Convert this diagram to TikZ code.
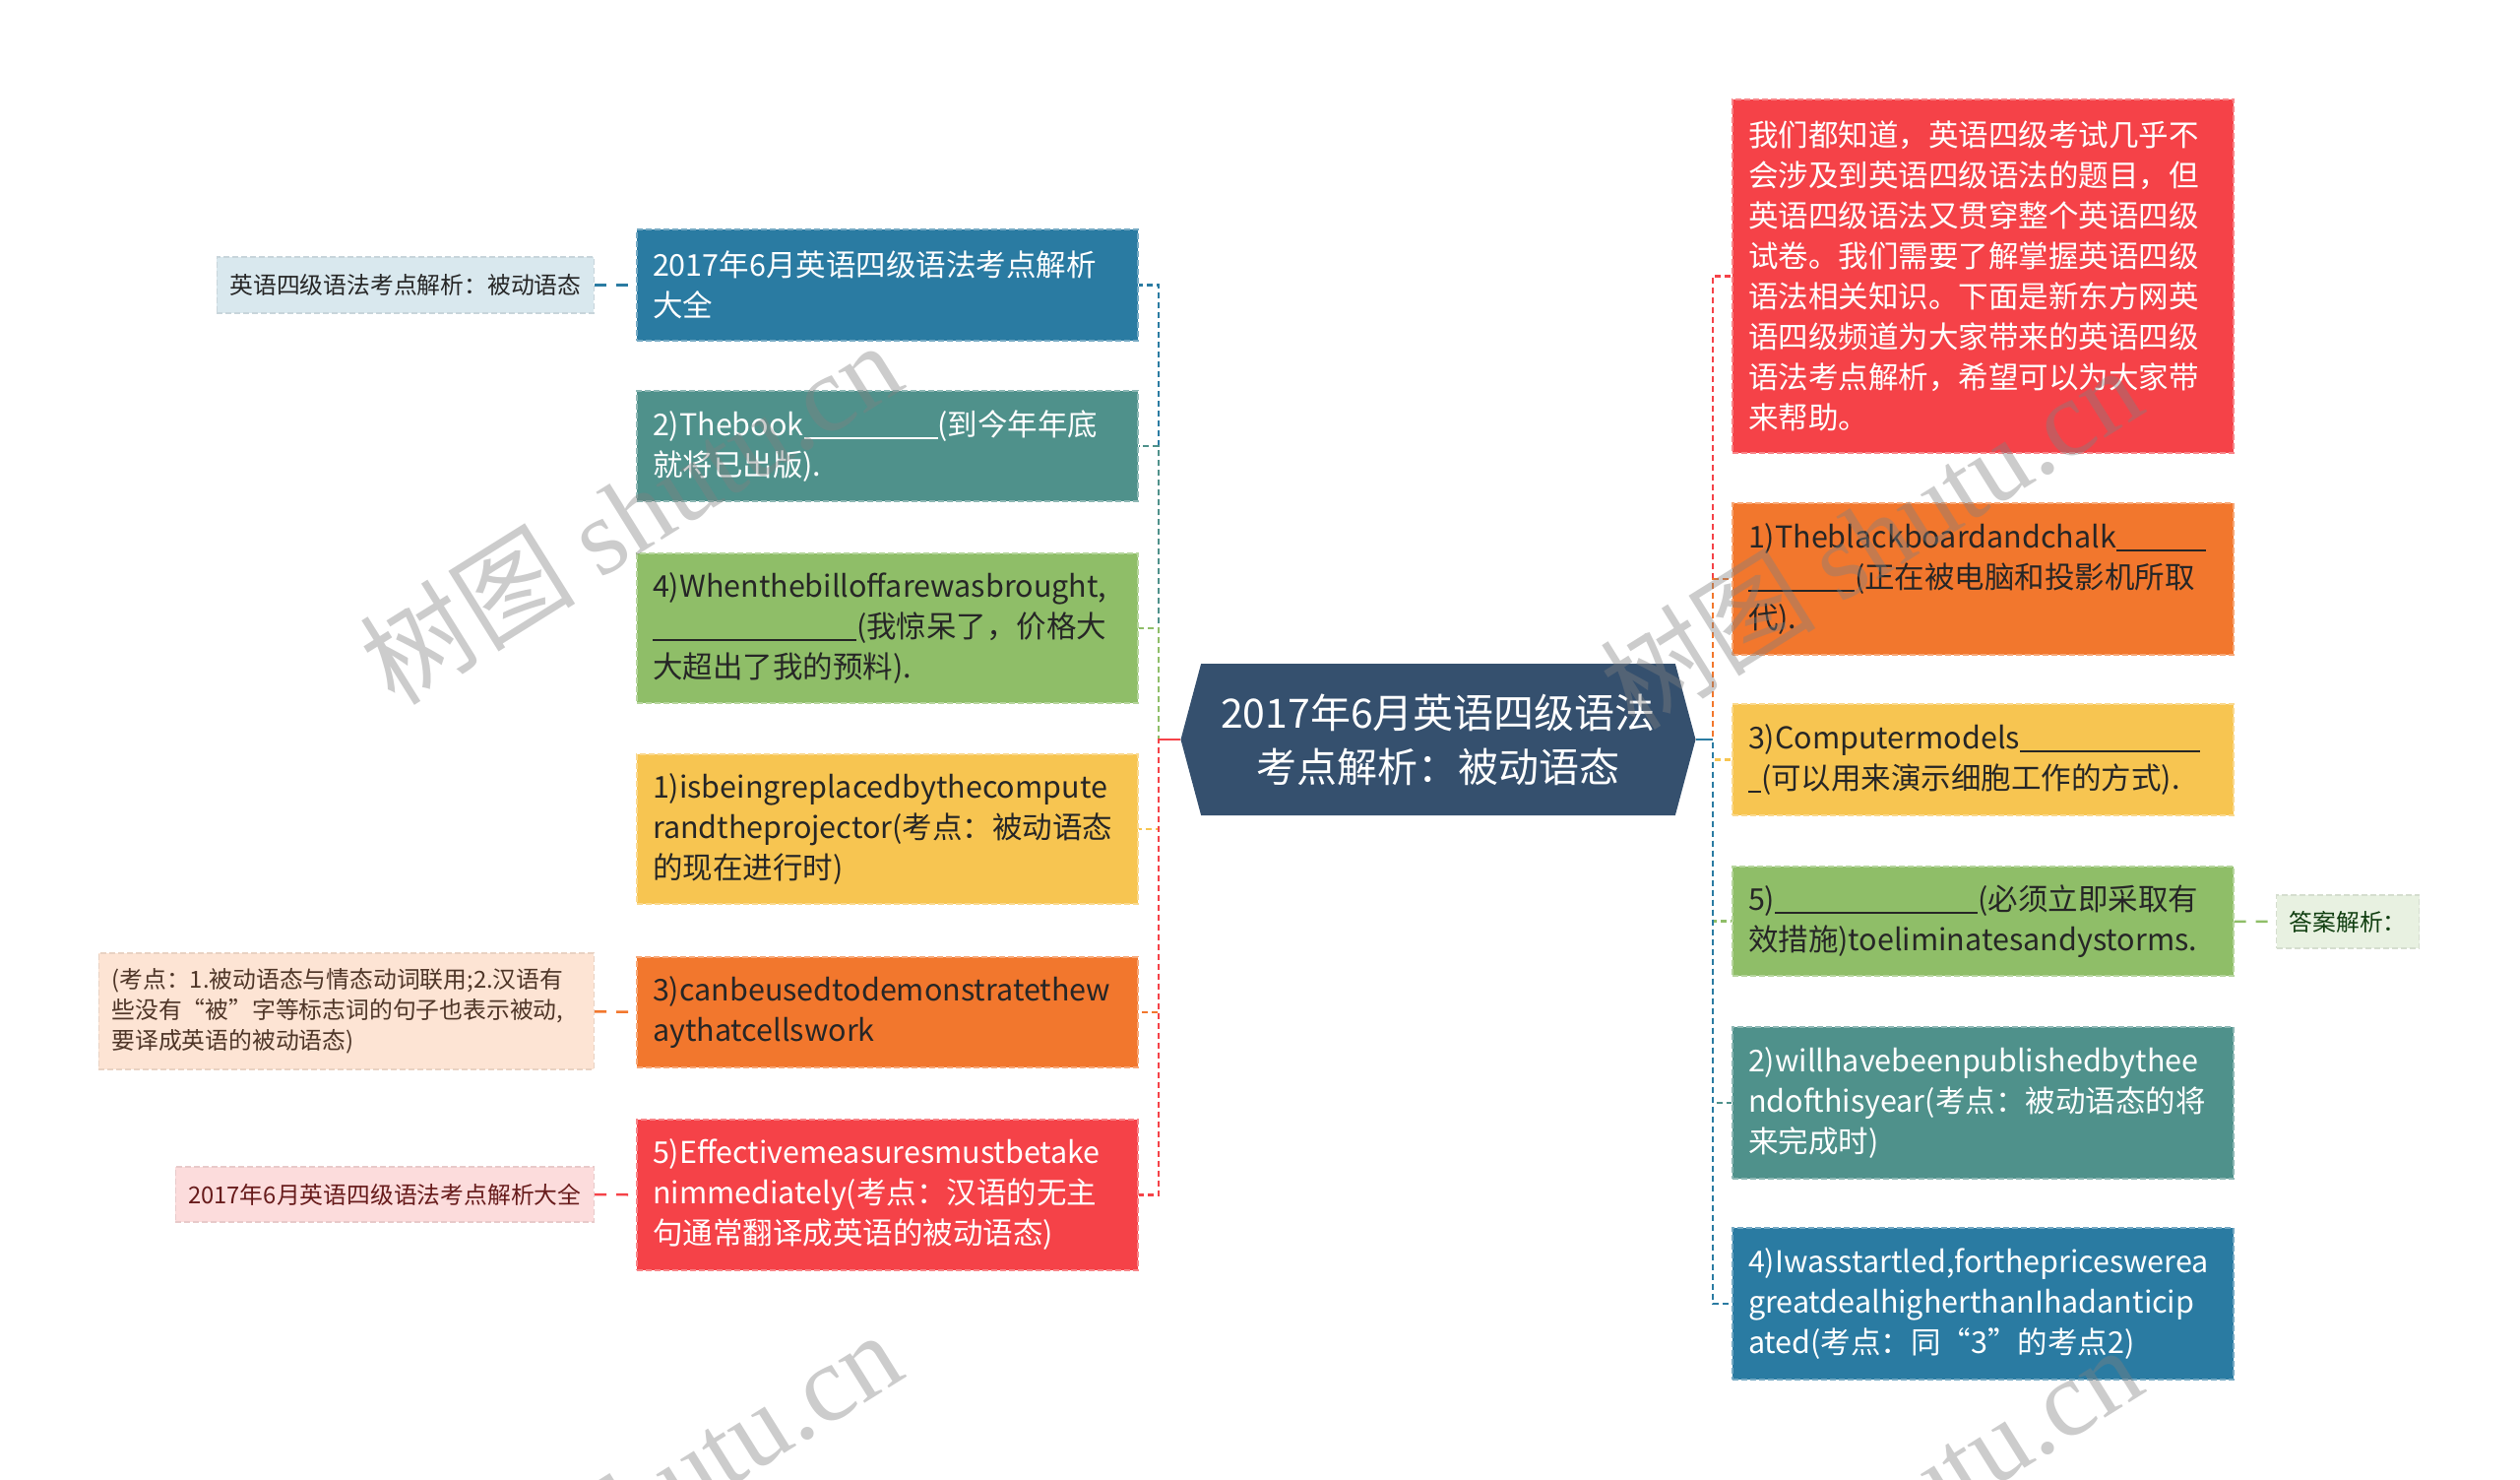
\documentclass[tikz,border=0pt]{standalone}
\usepackage{fontspec}
\setmainfont{Noto Sans CJK SC}
\newfontfamily\wmfont{Liberation Serif}
\usetikzlibrary{shapes.symbols}

\definecolor{cblue}{HTML}{2A7BA2}
\definecolor{cteal}{HTML}{4F918B}
\definecolor{cgreen}{HTML}{8FBE68}
\definecolor{cyellow}{HTML}{F7C551}
\definecolor{corange}{HTML}{F2772D}
\definecolor{cred}{HTML}{F54248}
\definecolor{croot}{HTML}{35506E}
\definecolor{ink}{HTML}{262626}
\definecolor{lblue}{HTML}{D9E8EE}
\definecolor{lpeach}{HTML}{FDE4D4}
\definecolor{lpink}{HTML}{FCDCDC}
\definecolor{lgreen}{HTML}{E8F1E1}

\newcommand{\blank}[1]{\rule[-0.12em]{#1pt}{0.07em}}

\tikzset{
  box/.style={rectangle, minimum width=509pt, text width=477pt, inner xsep=16pt,
    inner ysep=2pt, align=left, font=\fontsize{30.5}{41}\selectfont,
    dash pattern=on 6pt off 3pt, line width=1.2pt},
  mainw/.style={box, fill=#1, draw=#1!65!white, text=white},
  maind/.style={box, fill=#1, draw=#1!65!white, text=ink},
  leaf/.style={rectangle, inner xsep=13pt, inner ysep=2pt, align=left,
    font=\fontsize{23.8}{31}\selectfont, fill=#1, draw=#1!92!black,
    dash pattern=on 6pt off 3pt, line width=1.2pt},
  link/.style={line width=2.5pt, dash pattern=on 6pt off 4pt},
  leaflink/.style={line width=2.5pt, dash pattern=on 12pt off 10pt},
  wm/.style={font=\fontsize{110}{110}\selectfont, text=black!50, text opacity=0.4}
}

\begin{document}
\begin{tikzpicture}[x=1pt,y=-1pt]
\useasboundingbox (0,0) rectangle (2560,1503);

\node[signal, signal to=west and east, signal pointer angle=150, fill=croot,
  minimum width=523pt, minimum height=154pt, text=white, align=center,
  font=\fontsize{41}{55}\selectfont] (root) at (1461,751)
  {2017年6月英语四级语法\\考点解析：被动语态};
\coordinate (lt) at (1177,751);
\coordinate (rt) at (1740,751);

% left side
\node[mainw=cblue, minimum height=113pt] (L1) at (901.5,289.5) {2017年6月英语四级语法考点解析\\大全};
\node[mainw=cteal, minimum height=112pt] (L2) at (901.5,453) {2)Thebook\blank{136}(到今年年底\\就将已出版).};
\node[maind=cgreen, minimum height=152pt] (L3) at (901.5,638) {4)Whenthebilloffarewasbrought,\\\blank{207}(我惊呆了，价格大\\大超出了我的预料).};
\node[maind=cyellow, minimum height=152pt] (L4) at (901.5,842) {1)isbeingreplacedbythecompute\\randtheprojector(考点：被动语态\\的现在进行时)};
\node[maind=corange, minimum height=112pt] (L5) at (901.5,1028) {3)canbeusedtodemonstratethew\\aythatcellswork};
\node[mainw=cred, minimum height=153pt] (L6) at (901.5,1213.5) {5)Effectivemeasuresmustbetake\\nimmediately(考点：汉语的无主\\句通常翻译成英语的被动语态)};

\node[leaf=lblue, text=ink, anchor=east, minimum height=57pt] (LL1) at (604,289.5) {英语四级语法考点解析：被动语态};
\node[leaf=lpeach, text=ink!80!corange, anchor=east, minimum height=118pt, text width=477pt] (LL5) at (604,1027) {(考点：1.被动语态与情态动词联用;2.汉语有\\些没有“被”字等标志词的句子也表示被动,\\要译成英语的被动语态)};
\node[leaf=lpink, text=ink!70!red, anchor=east, minimum height=56pt] (LL6) at (604,1213) {2017年6月英语四级语法考点解析大全};

% right side
\node[mainw=cred, minimum height=359pt] (R1) at (2014.5,280.5) {我们都知道，英语四级考试几乎不\\会涉及到英语四级语法的题目，但\\英语四级语法又贯穿整个英语四级\\试卷。我们需要了解掌握英语四级\\语法相关知识。下面是新东方网英\\语四级频道为大家带来的英语四级\\语法考点解析，希望可以为大家带\\来帮助。};
\node[maind=corange, minimum height=154pt] (R2) at (2014.5,588) {1)Theblackboardandchalk\blank{91}\\\blank{108}(正在被电脑和投影机所取\\代).};
\node[maind=cyellow, minimum height=113pt] (R3) at (2014.5,771.5) {3)Computermodels\blank{183}\\\blank{13}(可以用来演示细胞工作的方式).};
\node[maind=cgreen, minimum height=111pt] (R4) at (2014.5,935.5) {5)\blank{206}(必须立即采取有\\效措施)toeliminatesandystorms.};
\node[mainw=cteal, minimum height=154pt] (R5) at (2014.5,1120) {2)willhavebeenpublishedbythee\\ndofthisyear(考点：被动语态的将\\来完成时)};
\node[mainw=cblue, minimum height=154pt] (R6) at (2014.5,1324) {4)Iwasstartled,forthepriceswerea\\greatdealhigherthanIhadanticip\\ated(考点：同“3”的考点2)};

\node[leaf=lgreen, text=ink!70!green!60!black, anchor=west, minimum height=54pt] (RL4) at (2312,936) {答案解析：};

% connectors
\draw[link, cblue] (root.west) -- (lt) |- (L1.east);
\draw[link, cteal] (root.west) -- (lt) |- (L2.east);
\draw[link, cgreen] (root.west) -- (lt) |- (L3.east);
\draw[link, cyellow] (root.west) -- (lt) |- (L4.east);
\draw[link, corange] (root.west) -- (lt) |- (L5.east);
\draw[link, cred] (root.west) -- (lt) |- (L6.east);
\draw[link, cred] (root.east) -- (rt) |- (R1.west);
\draw[link, corange] (root.east) -- (rt) |- (R2.west);
\draw[link, cyellow] (root.east) -- (rt) |- (R3.west);
\draw[link, cgreen] (root.east) -- (rt) |- (R4.west);
\draw[link, cteal] (root.east) -- (rt) |- (R5.west);
\draw[link, cblue] (root.east) -- (rt) |- (R6.west);
\draw[line width=2.5pt, cred] (root.west) -- (lt);
\draw[line width=2.5pt, cblue] (root.east) -- (rt);

\draw[leaflink, cblue] (LL1) -- (L1);
\draw[leaflink, corange] (LL5) -- (L5);
\draw[leaflink, cred] (LL6) -- (L6);
\draw[leaflink, cgreen] (R4) -- (RL4);

% watermarks
\node[wm, rotate=32] (wm1) at (640,520) {树图 {\wmfont shutu.cn}};
\node[wm, rotate=32] (wm2) at (1900,545) {树图 {\wmfont shutu.cn}};
\node[wm, rotate=32] (wm3) at (640,1525) {树图 {\wmfont shutu.cn}};
\node[wm, rotate=32] (wm4) at (1900,1540) {树图 {\wmfont shutu.cn}};
\end{tikzpicture}
\end{document}
